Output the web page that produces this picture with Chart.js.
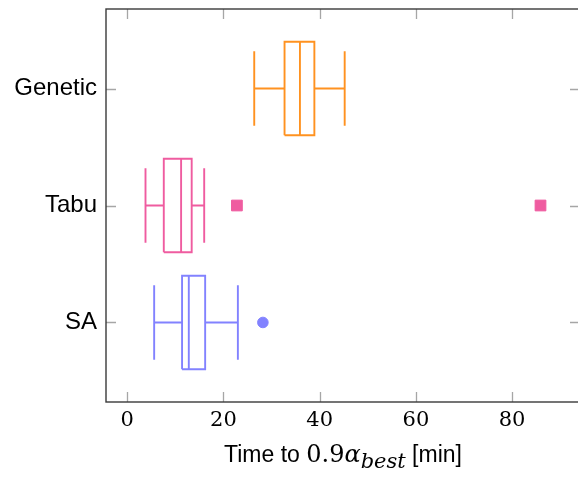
<!DOCTYPE html>
<html>
<head>
<meta charset="utf-8">
<script src="https://cdn.jsdelivr.net/npm/chart.js@4.4.1/dist/chart.umd.min.js"></script>
<style>
  html, body { margin: 0; padding: 0; background: #fff; overflow: hidden; }
  #wrap { position: relative; width: 590px; height: 477px; }
</style>
</head>
<body>
<div id="wrap"><canvas id="c" width="590" height="477"></canvas></div>
<script>
// ---- data ----
const categories   = ['Genetic', 'Tabu', 'SA'];
const catPositions = [2, 1, 0];
const whiskerLow   = [26.4, 3.8, 5.6];
const q1           = [32.7, 7.6, 11.4];
const median       = [35.9, 11.2, 12.8];
const q3           = [38.9, 13.4, 16.2];
const whiskerHigh  = [45.2, 16.0, 23.0];
const outliers     = [[], [22.8, 85.9], [28.2]];
const xTicks       = [0, 20, 40, 60, 80];
const colors       = ['rgb(255,146,32)', 'rgb(239,92,160)', 'rgb(130,130,255)'];
const outlierStyle = ['circle', 'rect', 'circle'];

const BOX_HALF = 0.40, CAP_HALF = 0.318;
const datasets = [];
categories.forEach((name, i) => {
  const y = catPositions[i];
  const common = { borderColor: colors[i], borderWidth: 1.9, pointRadius: 0, showLine: true, fill: false, tension: 0 };
  datasets.push(Object.assign({ label: name + ' box', data: [
    { x: q1[i], y: y - BOX_HALF }, { x: q3[i], y: y - BOX_HALF },
    { x: q3[i], y: y + BOX_HALF }, { x: q1[i], y: y + BOX_HALF },
    { x: q1[i], y: y - BOX_HALF } ] }, common));
  datasets.push(Object.assign({ label: name + ' median', data: [
    { x: median[i], y: y - BOX_HALF }, { x: median[i], y: y + BOX_HALF } ] }, common));
  datasets.push(Object.assign({ label: name + ' low', data: [
    { x: whiskerLow[i], y: y + CAP_HALF }, { x: whiskerLow[i], y: y - CAP_HALF },
    { x: whiskerLow[i], y: y }, { x: q1[i], y: y } ] }, common));
  datasets.push(Object.assign({ label: name + ' high', data: [
    { x: q3[i], y: y }, { x: whiskerHigh[i], y: y },
    { x: whiskerHigh[i], y: y + CAP_HALF }, { x: whiskerHigh[i], y: y - CAP_HALF } ] }, common));
  if (outliers[i].length) {
    const isRect = outlierStyle[i] === 'rect';
    datasets.push({ label: name + ' outliers', data: outliers[i].map(v => ({ x: v, y: y })),
      showLine: false, pointStyle: outlierStyle[i], pointRadius: isRect ? 7.6 : 5.3,
      backgroundColor: colors[i], borderColor: colors[i], borderWidth: 1 });
  }
});

const framePlugin = {
  id: 'frame',
  afterDraw(chart) {
    const ctx = chart.ctx, a = chart.chartArea;
    const xs = chart.scales.x, ys = chart.scales.y;
    const TL = 10;
    ctx.save();
    ctx.strokeStyle = '#a6a6a6';
    ctx.lineWidth = 1.3;
    ctx.beginPath();
    xTicks.forEach(v => {
      const px = Math.round(xs.getPixelForValue(v)) + 0.5;
      ctx.moveTo(px, a.bottom); ctx.lineTo(px, a.bottom - TL);
      ctx.moveTo(px, a.top); ctx.lineTo(px, a.top + TL);
    });
    catPositions.forEach(v => {
      const py = Math.round(ys.getPixelForValue(v)) + 0.5;
      ctx.moveTo(a.left, py); ctx.lineTo(a.left + TL, py);
      ctx.moveTo(a.right, py); ctx.lineTo(a.right - TL, py);
    });
    ctx.stroke();
    ctx.strokeStyle = '#3a3a3a';
    ctx.lineWidth = 1.4;
    ctx.strokeRect(a.left, a.top, a.right - a.left, a.bottom - a.top);

    // axis title: "Time to 0.9α_best [min]"
    const parts = [
      { t: 'Time to ', f: '23px "Liberation Sans", Arial, sans-serif', dy: 0 },
      { t: '0.9', f: '24px "DejaVu Serif", serif', dy: 0 },
      { t: 'α', f: 'italic 24px "DejaVu Serif", serif', dy: 0 },
      { t: 'best', f: 'italic 21px "DejaVu Serif", serif', dy: 6 },
      { t: ' [min]', f: '23px "Liberation Sans", Arial, sans-serif', dy: 0 }
    ];
    let total = 0;
    parts.forEach(p => { ctx.font = p.f; p.w = ctx.measureText(p.t).width; total += p.w; });
    let x = (a.left + a.right) / 2 - total / 2;
    const base = xs.bottom - 15;
    ctx.fillStyle = '#000';
    ctx.textBaseline = 'alphabetic';
    ctx.textAlign = 'left';
    parts.forEach(p => { ctx.font = p.f; ctx.fillText(p.t, x, base + p.dy); x += p.w; });
    ctx.restore();
  }
};

new Chart(document.getElementById('c'), {
  type: 'scatter',
  data: { datasets },
  options: {
    responsive: false,
    animation: false,
    layout: { padding: { top: 9, right: 10, left: 0, bottom: 0 } },
    plugins: { legend: { display: false }, tooltip: { enabled: false } },
    scales: {
      x: {
        type: 'linear', min: -4.41, max: 94.11,
        afterBuildTicks: s => { s.ticks = xTicks.map(v => ({ value: v })); },
        afterFit: s => { s.height = 75; s.paddingLeft = 0; s.paddingRight = 0; },
        grid: { display: false, drawTicks: false },
        border: { display: false },
        ticks: { padding: 6, color: '#000', font: { family: '"DejaVu Serif", serif', size: 21 } }
      },
      y: {
        type: 'linear', min: -0.68, max: 2.68,
        afterBuildTicks: s => { s.ticks = catPositions.map(v => ({ value: v })); },
        afterFit: s => { s.width = 106; s.paddingTop = 0; s.paddingBottom = 0; },
        grid: { display: false, drawTicks: false },
        border: { display: false },
        ticks: {
          padding: 9, color: '#000',
          font: { family: '"Liberation Sans", Arial, sans-serif', size: 24 },
          callback: v => { const k = catPositions.indexOf(v); return k >= 0 ? categories[k] : ''; }
        }
      }
    }
  },
  plugins: [framePlugin]
});
</script>
</body>
</html>
